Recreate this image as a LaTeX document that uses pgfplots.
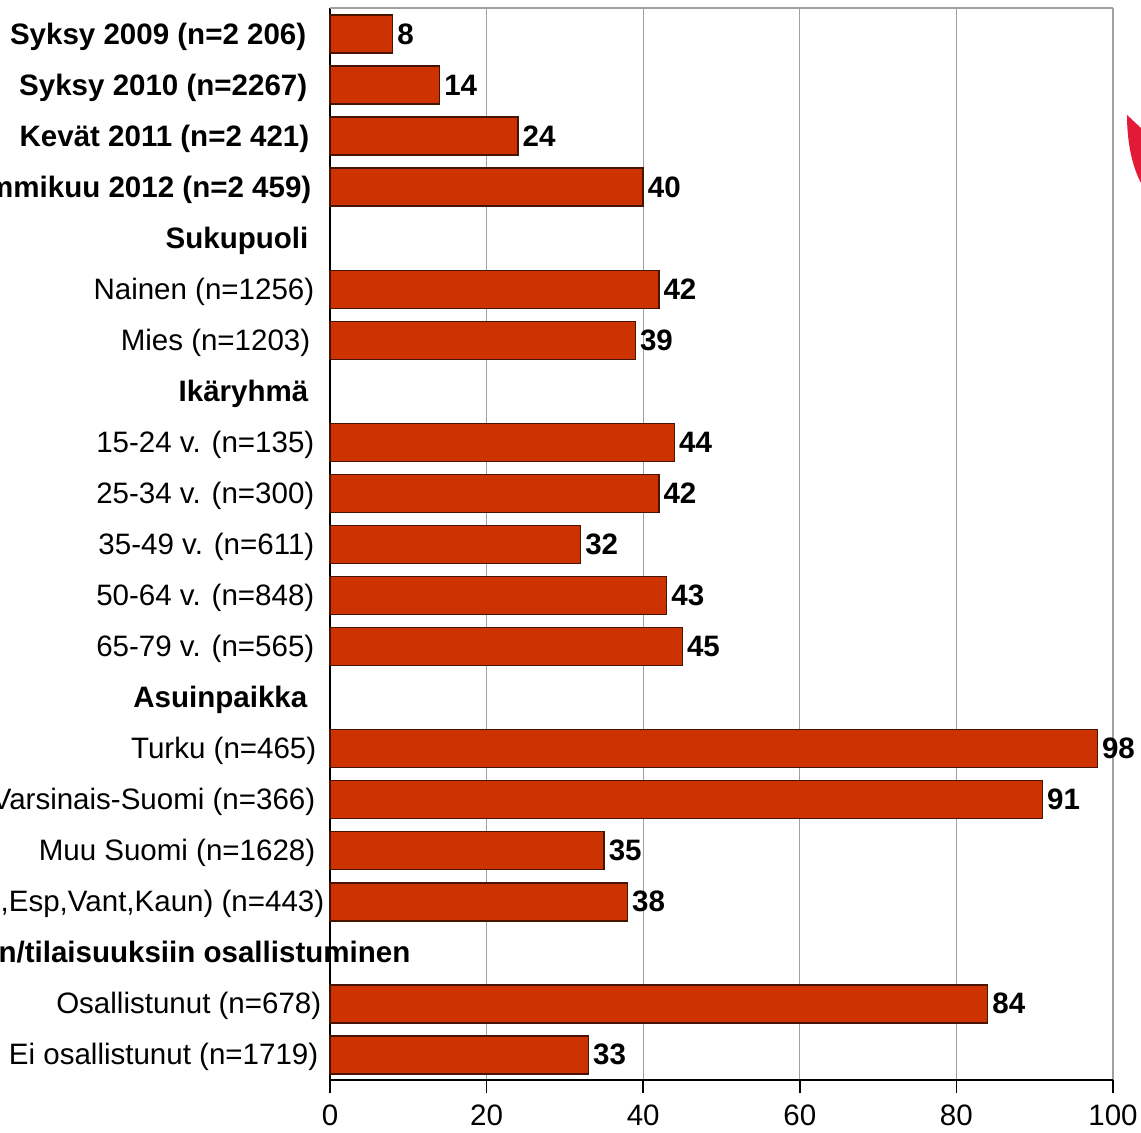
\documentclass[border=0pt]{standalone}
\usepackage{pgfplots}
\pgfplotsset{compat=1.18}
\usepackage{pgfplotstable}
\usepackage{fontspec}
\setmainfont{Liberation Sans}
\definecolor{barred}{RGB}{204,51,0}
\definecolor{baredge}{RGB}{70,20,0}
\definecolor{logored}{RGB}{227,26,55}
\definecolor{gridgray}{RGB}{160,160,160}

\pgfplotstableread{
y value
20 8
19 14
18 24
17 40
15 42
14 39
12 44
11 42
10 32
9 43
8 45
6 98
5 91
4 35
3 38
1 84
0 33
}\datatable

\begin{document}
\fontsize{8.4}{10}\selectfont
\begin{tikzpicture}
\begin{axis}[
  scale only axis,
  width=7.83cm, height=10.72cm,
  xmin=0, xmax=100,
  ymin=-0.49, ymax=20.51,
  xtick={0,20,40,60,80,100},
  ytick=\empty,
  axis x line*=bottom,
  axis y line*=left,
  axis line style={black, line width=0.45pt},
  tick align=outside,
  major tick length=0.13cm,
  x tick style={black, line width=0.45pt},
  xmajorgrids,
  grid style={gridgray, line width=0.3pt},
  /pgf/number format/assume math mode=true,
  xticklabel style={anchor=base, yshift=-0.32cm, inner sep=0pt, font=\fontsize{8.4}{10}\selectfont},
  clip=false,
  xbar,
  bar width=0.38cm,
  bar shift=0pt,
  point meta=x,
  nodes near coords,
  nodes near coords style={anchor=base west, inner sep=0pt, xshift=0.04cm, yshift=-0.10cm, font=\fontsize{8.4}{10}\selectfont\bfseries},
]
\addplot[fill=barred, draw=baredge, line width=0.4pt] table[x=value, y=y] {\datatable};

\draw[gridgray, line width=0.3pt] (rel axis cs:0,1) -- (rel axis cs:1,1);

\begin{scope}[every node/.style={anchor=base east, inner sep=0pt, yshift=-0.10cm}]
\node[font=\bfseries, xshift=-0.23cm] at (axis cs:0,20) {Syksy 2009 (n=2 206)};
\node[font=\bfseries, xshift=-0.22cm] at (axis cs:0,19) {Syksy 2010 (n=2267)};
\node[font=\bfseries, xshift=-0.20cm] at (axis cs:0,18) {Kevät 2011 (n=2 421)};
\node[font=\bfseries, xshift=-0.18cm] at (axis cs:0,17) {Tammikuu 2012 (n=2 459)};
\node[font=\bfseries, xshift=-0.21cm] at (axis cs:0,16) {Sukupuoli};
\node[xshift=-0.15cm] at (axis cs:0,15) {Nainen (n=1256)};
\node[xshift=-0.19cm] at (axis cs:0,14) {Mies (n=1203)};
\node[font=\bfseries, xshift=-0.21cm] at (axis cs:0,13) {Ikäryhmä};
\node[xshift=-0.15cm] at (axis cs:0,12) {15-24 v. (n=135)};
\node[xshift=-0.15cm] at (axis cs:0,11) {25-34 v. (n=300)};
\node[xshift=-0.15cm] at (axis cs:0,10) {35-49 v. (n=611)};
\node[xshift=-0.15cm] at (axis cs:0,9) {50-64 v. (n=848)};
\node[xshift=-0.15cm] at (axis cs:0,8) {65-79 v. (n=565)};
\node[font=\bfseries, xshift=-0.22cm] at (axis cs:0,7) {Asuinpaikka};
\node[xshift=-0.13cm] at (axis cs:0,6) {Turku (n=465)};
\node[xshift=-0.14cm] at (axis cs:0,5) {Varsinais-Suomi (n=366)};
\node[xshift=-0.14cm] at (axis cs:0,4) {Muu Suomi (n=1628)};
\node[xshift=-0.05cm] at (axis cs:0,3) {Pääkaupunkiseutu (Hki,Esp,Vant,Kaun) (n=443)};
\node[font=\bfseries, xshift=0.81cm] at (axis cs:0,2) {Tapahtumiin/tilaisuuksiin osallistuminen};
\node[xshift=-0.08cm] at (axis cs:0,1) {Osallistunut (n=678)};
\node[xshift=-0.11cm] at (axis cs:0,0) {Ei osallistunut (n=1719)};
\end{scope}
\end{axis}
\pgfresetboundingbox
\useasboundingbox (-3.30,-0.52) rectangle (8.11,10.80);
\fill[logored] (7.97,9.65) -- (8.11,9.52) -- (8.11,8.97) .. controls (8.03,9.12) and (7.97,9.35) .. cycle;
\end{tikzpicture}
\end{document}
